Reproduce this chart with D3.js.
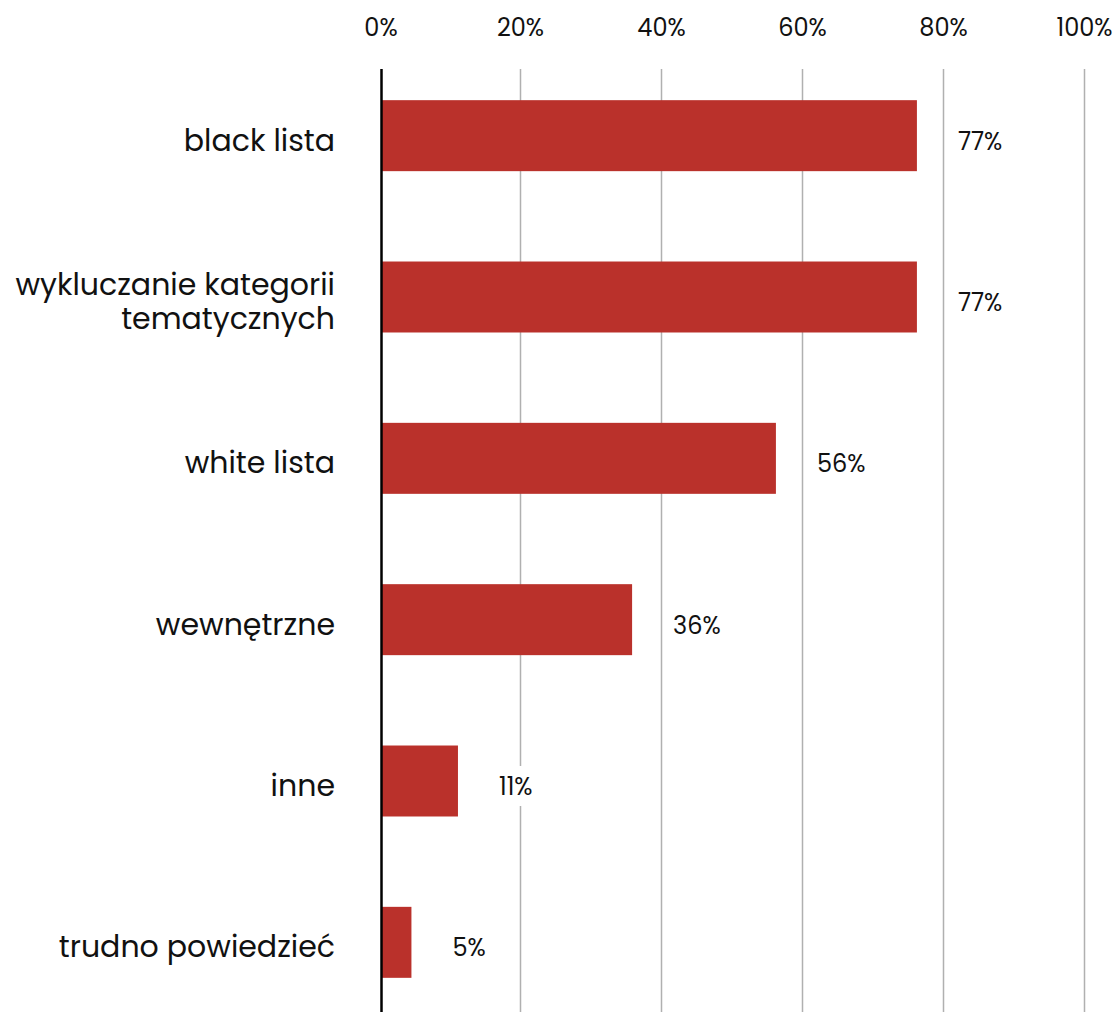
<!DOCTYPE html>
<html><head><meta charset="utf-8">
<script src="https://cdn.jsdelivr.net/npm/d3@7"></script>
<style>
html,body{margin:0;padding:0;background:#fff;}
svg{display:block;font-family:Poppins,Inter,"Noto Sans",sans-serif;}
</style></head>
<body>
<svg id="chart" width="1114" height="1012"></svg>
<script>
const categories = ["black lista", "wykluczanie kategorii|tematycznych", "white lista", "wewnętrzne", "inne", "trudno powiedzieć"];
const values = [76.3, 76.3, 56.3, 35.9, 11.2, 4.6];
const valueLabels = ["77%", "77%", "56%", "36%", "11%", "5%"];
const tickValues = [0, 20, 40, 60, 80, 100];
const tickLabels = ["0%", "20%", "40%", "60%", "80%", "100%"];

const svg = d3.select("#chart");
const x = d3.scaleLinear().domain([0, 100]).range([379, 1084]);
const y = d3.scaleBand().domain(categories).range([55, 1023]).paddingInner(0.56).paddingOuter(0.28);

// gridlines
svg.append("g").selectAll("line").data(tickValues.slice(1)).join("line")
  .attr("x1", d => x(d) + 0.5).attr("x2", d => x(d) + 0.5)
  .attr("y1", 69).attr("y2", 1012)
  .attr("stroke", "#b0b0b0").attr("stroke-width", 1.5);

// top tick labels
svg.append("g").selectAll("text").data(tickValues).join("text")
  .attr("x", (d, i) => i === 0 ? x(d) + 2 : x(d) + 0.5)
  .attr("y", 36)
  .attr("text-anchor", "middle")
  .attr("font-size", 24)
  .attr("fill", "#111")
  .text((d, i) => tickLabels[i]);

// bars
svg.append("g").selectAll("rect").data(categories).join("rect")
  .attr("x", x(0) + 3)
  .attr("y", d => y(d))
  .attr("width", (d, i) => x(values[i]) - x(0) - 3)
  .attr("height", y.bandwidth())
  .attr("fill", "#ba312b");

// value labels with white background
const vl = svg.append("g").selectAll("g").data(categories).join("g")
  .attr("transform", (d, i) => `translate(${x(values[i]) + 41},${y(d) + y.bandwidth() / 2 + 5})`);
vl.append("rect").attr("x", -4).attr("y", -20).attr("width", (d, i) => valueLabels[i].length * 16 + 8).attr("height", 40).attr("fill", "#fff");
vl.append("text")
  .attr("y", 9)
  .attr("font-size", 24)
  .attr("fill", "#111")
  .text((d, i) => valueLabels[i]);

// category labels (one text element per line)
const lineData = [];
categories.forEach(d => {
  const lines = d.split("|");
  const cy = y(d) + y.bandwidth() / 2 + 5;
  const lh = 34;
  const start = cy - (lines.length - 1) * lh / 2 + 10;
  lines.forEach((l, j) => lineData.push({ text: l, y: start + j * lh }));
});
svg.append("g").selectAll("text").data(lineData).join("text")
  .attr("text-anchor", "end")
  .attr("x", 335)
  .attr("y", d => d.y)
  .attr("font-size", 30)
  .attr("fill", "#111")
  .text(d => d.text);

// axis line
svg.append("line").attr("x1", x(0) + 2.5).attr("x2", x(0) + 2.5).attr("y1", 69).attr("y2", 1012)
  .attr("stroke", "#000").attr("stroke-width", 2.5);
</script>
</body></html>
